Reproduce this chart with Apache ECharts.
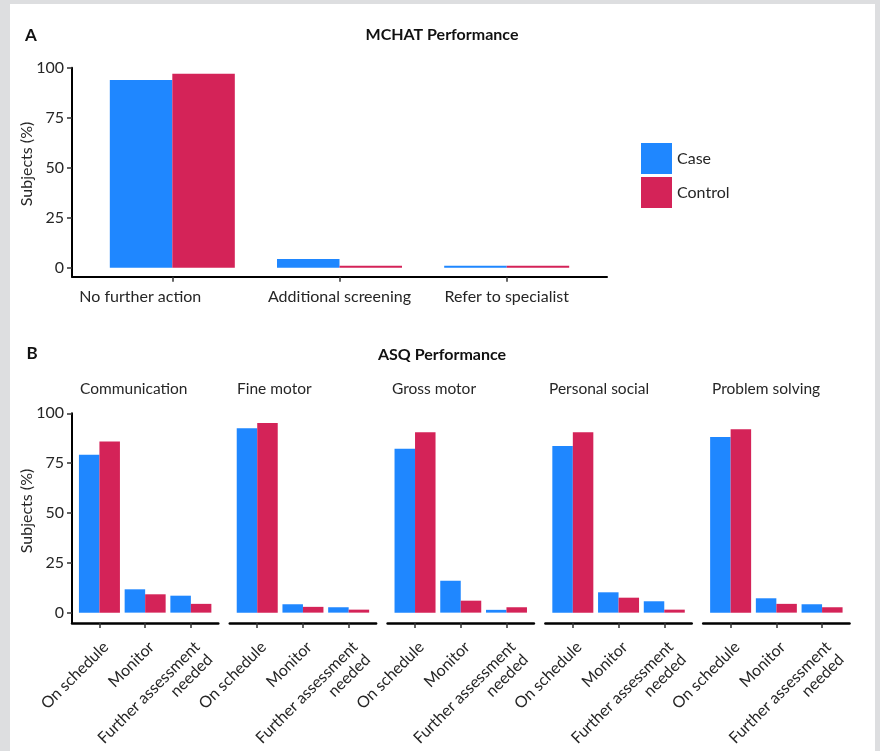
<!DOCTYPE html>
<html>
<head>
<meta charset="utf-8">
<script src="https://cdn.jsdelivr.net/npm/echarts@6/dist/echarts.min.js"></script>
<style>
  html, body { margin: 0; padding: 0; background: #dddee0; }
  #chart { width: 880px; height: 751px; }
</style>
</head>
<body>
<div id="chart"></div>
<script>
// --- data ---
const seriesNames = ['Case', 'Control']
const mchatCategories = ['No further action', 'Additional screening', 'Refer to specialist']
const mchatCase = [93.8, 4.3, 1.0]
const mchatControl = [97.0, 1.0, 1.0]

const asqDomains = ['Communication', 'Fine motor', 'Gross motor', 'Personal social', 'Problem solving']
const asqCategories = ['On schedule', 'Monitor', 'Further assessment\nneeded']
// one row per domain: [on schedule, monitor, further assessment]
const asqCase = [[79.2, 11.7, 8.5], [92.5, 4.2, 2.7], [82.2, 16.0, 1.4], [83.6, 10.2, 5.7], [88.1, 7.2, 4.2]]
const asqControl = [[85.8, 9.2, 4.4], [95.1, 2.9, 1.5], [90.5, 6.0, 2.7], [90.5, 7.5, 1.5], [92.0, 4.4, 2.7]]
const yTicks = [0, 25, 50, 75, 100]

const colors = ['#1f87ff', '#d42358']
const font = 'Lato'
const textColor = '#262626'
const labelSize = 16

const chart = echarts.init(document.getElementById('chart'))

const grids = []
const xAxes = []
const yAxes = []
const series = []

// one panel = one grid with a value x axis (0.4..3.6 like ggplot's discrete expansion)
function addPanel({ left, top, width, height, yMin, cats, caseVals, ctrlVals, barWidth, showY, rotate, xLineWidth, labelMargin, shiftFirst }) {
  const idx = grids.length
  const pos = cats.map((_, k) => k + 1)
  grids.push({ left, top, width, height, containLabel: false, outerBoundsMode: 'none' })
  const xLabel = {
    customValues: pos,
    hideOverlap: false,
    showMinLabel: true,
    showMaxLabel: true,
    formatter: v => {
      const k = Math.round(v) - 1
      // the first MCHAT label sits left of its tick in the original
      return shiftFirst && k === 0 ? '{first|' + cats[k] + '}' : cats[k]
    },
    color: textColor,
    fontSize: labelSize,
    fontFamily: font,
    margin: labelMargin,
    rotate: rotate,
    lineHeight: 18,
    rich: { first: { width: 186, align: 'left', fontSize: labelSize, fontFamily: font, color: textColor } }
  }
  if (rotate) xLabel.verticalAlign = 'top'
  xAxes.push({
    type: 'value',
    gridIndex: idx,
    min: 0.4,
    max: 3.6,
    axisLine: { show: true, onZero: false, lineStyle: { color: '#000', width: xLineWidth } },
    axisTick: { show: true, customValues: pos, length: 5, lineStyle: { color: '#333', width: 1.5 } },
    axisLabel: xLabel,
    splitLine: { show: false }
  })
  yAxes.push({
    type: 'value',
    gridIndex: idx,
    min: yMin,
    max: 100,
    show: showY,
    axisLine: { show: true, onZero: false, lineStyle: { color: '#000', width: 2 } },
    axisTick: { show: true, customValues: yTicks, length: 5, lineStyle: { color: '#333', width: 1.5 } },
    axisLabel: { customValues: yTicks, color: textColor, fontSize: labelSize, fontFamily: font, margin: 8 },
    splitLine: { show: false }
  })
  ;[caseVals, ctrlVals].forEach((vals, s) => {
    series.push({
      type: 'bar',
      name: seriesNames[s],
      xAxisIndex: idx,
      yAxisIndex: idx,
      barWidth: barWidth,
      barGap: '0%',
      itemStyle: { color: colors[s] },
      data: vals.map((v, k) => [k + 1, v])
    })
  })
}

// panel A
addPanel({
  left: 72, top: 67.7, width: 535, height: 209, yMin: -4.5,
  cats: mchatCategories, caseVals: mchatCase, ctrlVals: mchatControl,
  barWidth: 62.5, showY: true, rotate: 0, xLineWidth: 2, labelMargin: 11, shiftFirst: true
})

// panel B facets
const facetLefts = asqDomains.map((_, i) => 72 + i * 157.8)
asqDomains.forEach((d, i) => {
  addPanel({
    left: facetLefts[i], top: 413.3, width: 146.3, height: 209.7, yMin: -5.2,
    cats: asqCategories, caseVals: asqCase[i], ctrlVals: asqControl[i],
    barWidth: 20.5, showY: i === 0, rotate: 45, xLineWidth: 2.5, labelMargin: 15, shiftFirst: false
  })
})

const facetTitleX = [80, 237, 392, 549, 712]

const graphics = [
  { type: 'rect', z: -10, shape: { x: 10, y: 4, width: 865, height: 747 }, style: { fill: '#fff' } },
  { type: 'text', x: 31, y: 36, style: { text: 'A', fontSize: 17, fontWeight: 'bold', fontFamily: font, fill: '#111', align: 'center', verticalAlign: 'middle' } },
  { type: 'text', x: 442, y: 35, style: { text: 'MCHAT Performance', fontSize: 16, fontWeight: 'bold', fontFamily: font, fill: '#111', align: 'center', verticalAlign: 'middle' } },
  { type: 'text', x: 32, y: 354, style: { text: 'B', fontSize: 17, fontWeight: 'bold', fontFamily: font, fill: '#111', align: 'center', verticalAlign: 'middle' } },
  { type: 'text', x: 442, y: 355, style: { text: 'ASQ Performance', fontSize: 16, fontWeight: 'bold', fontFamily: font, fill: '#111', align: 'center', verticalAlign: 'middle' } },
  { type: 'text', x: 27, y: 164, rotation: Math.PI / 2, style: { text: 'Subjects (%)', fontSize: 16, fontFamily: font, fill: textColor, align: 'center', verticalAlign: 'middle' } },
  { type: 'text', x: 27, y: 511, rotation: Math.PI / 2, style: { text: 'Subjects (%)', fontSize: 16, fontFamily: font, fill: textColor, align: 'center', verticalAlign: 'middle' } }
]
asqDomains.forEach((d, i) => {
  graphics.push({ type: 'text', x: facetTitleX[i], y: 389, style: { text: d, fontSize: 15.5, fontFamily: font, fill: textColor, align: 'left', verticalAlign: 'middle' } })
})

const option = {
  backgroundColor: '#dddee0',
  animation: false,
  textStyle: { fontFamily: font },
  legend: {
    data: seriesNames,
    orient: 'vertical',
    left: 641,
    top: 143,
    padding: 0,
    icon: 'rect',
    itemWidth: 31,
    itemHeight: 31,
    itemGap: 3,
    textStyle: { fontSize: 16, color: textColor, fontFamily: font }
  },
  grid: grids,
  xAxis: xAxes,
  yAxis: yAxes,
  series: series,
  graphic: graphics
}

chart.setOption(option)
</script>
</body>
</html>
